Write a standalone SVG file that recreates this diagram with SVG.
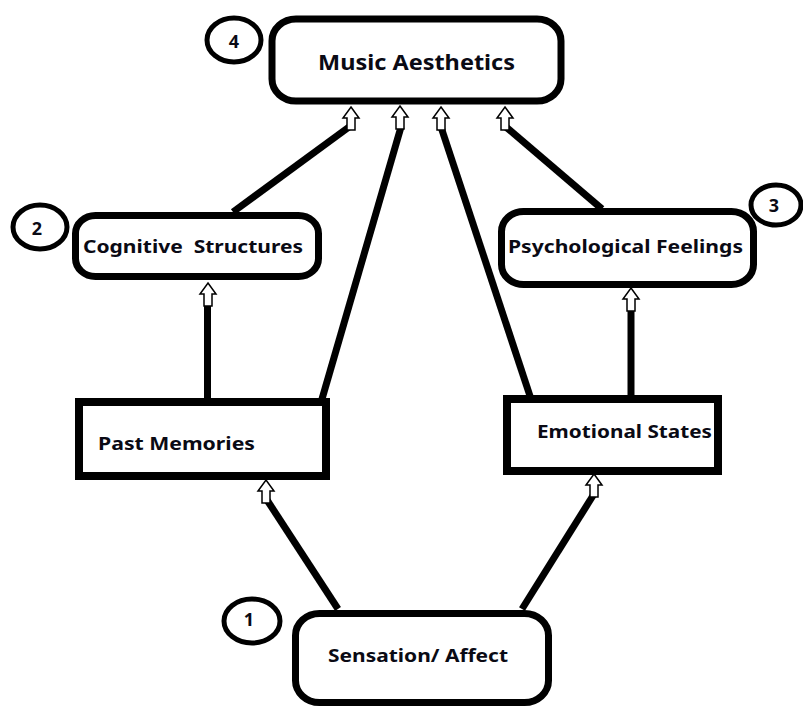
<svg xmlns="http://www.w3.org/2000/svg" width="803" height="710" viewBox="0 0 803 710">
<style>
.box{fill:#fff;stroke:#000;stroke-width:7}
.rbox{fill:#fff;stroke:#000;stroke-width:8}
.num{fill:#fff;stroke:#000;stroke-width:5}
.lbl{font-family:"Noto Sans","Open Sans","DejaVu Sans",sans-serif;font-weight:bold;font-size:18px;fill:#0a0a14}
.big{font-size:21px}
.n{font-family:"Noto Sans","Open Sans","DejaVu Sans",sans-serif;font-weight:bold;font-size:18px;fill:#0a0a14;text-anchor:middle}
.con line{stroke:#000;stroke-width:7;stroke-linecap:butt}
.arr{fill:#fff;stroke:#000;stroke-width:1.5;stroke-linejoin:miter}
</style>
<defs>
<path id="arr" class="arr" d="M0,0 L8,11 L4,11 L4,23 L-4,23 L-4,11 L-8,11 Z"/>
</defs>
<rect width="803" height="710" fill="#fff"/>
<g id="connectors" class="con">
<line x1="233" y1="212" x2="349" y2="127"/>
<line x1="322" y1="399" x2="401" y2="127"/>
<line x1="530" y1="396" x2="441" y2="127"/>
<line x1="602" y1="209" x2="506" y2="127"/>
<line x1="207.5" y1="399" x2="207.5" y2="302"/>
<line x1="631" y1="396" x2="631" y2="307"/>
<line x1="338" y1="609" x2="267" y2="500"/>
<line x1="522" y1="609" x2="594" y2="494"/>
<use href="#arr" x="351" y="107"/>
<use href="#arr" x="400" y="106"/>
<use href="#arr" x="441" y="107"/>
<use href="#arr" x="505" y="107"/>
<use href="#arr" x="208" y="283"/>
<use href="#arr" x="631" y="288"/>
<use href="#arr" x="266" y="480"/>
<use href="#arr" x="594" y="474"/>
</g>
<g id="music-aesthetics">
<rect class="box" x="272" y="19" width="289" height="82" rx="24" ry="22"/>
<text class="lbl big" x="318" y="70" textLength="197" lengthAdjust="spacingAndGlyphs">Music Aesthetics</text>
</g>
<g id="badge-4">
<ellipse class="num" cx="234" cy="40" rx="27" ry="22"/>
<text class="n" x="234" y="48">4</text>
</g>
<g id="cognitive-structures">
<rect class="box" x="75.5" y="215.5" width="243" height="61" rx="20" ry="18"/>
<text class="lbl" x="83" y="253" textLength="220" lengthAdjust="spacingAndGlyphs" xml:space="preserve">Cognitive  Structures</text>
</g>
<g id="badge-2">
<ellipse class="num" cx="40" cy="227" rx="27" ry="22"/>
<text class="n" x="37" y="235">2</text>
</g>
<g id="psychological-feelings">
<rect class="box" x="501.5" y="211.5" width="252" height="73" rx="22" ry="20"/>
<text class="lbl" x="508" y="253" textLength="235" lengthAdjust="spacingAndGlyphs">Psychological Feelings</text>
</g>
<g id="badge-3">
<ellipse class="num" cx="776" cy="205" rx="25" ry="20"/>
<text class="n" x="774" y="212">3</text>
</g>
<g id="past-memories">
<rect class="rbox" x="79" y="402" width="247" height="74"/>
<text class="lbl" x="98" y="450" textLength="157" lengthAdjust="spacingAndGlyphs">Past Memories</text>
</g>
<g id="emotional-states">
<rect class="rbox" x="507" y="399" width="211" height="72"/>
<text class="lbl" x="537" y="438" textLength="175" lengthAdjust="spacingAndGlyphs">Emotional States</text>
</g>
<g id="sensation-affect">
<rect class="box" x="295.5" y="613.5" width="253" height="89" rx="24" ry="22"/>
<text class="lbl" x="328" y="662" textLength="180" lengthAdjust="spacingAndGlyphs">Sensation/ Affect</text>
</g>
<g id="badge-1">
<ellipse class="num" cx="252" cy="621" rx="28" ry="22"/>
<text class="n" x="249" y="626">1</text>
</g>
</svg>
